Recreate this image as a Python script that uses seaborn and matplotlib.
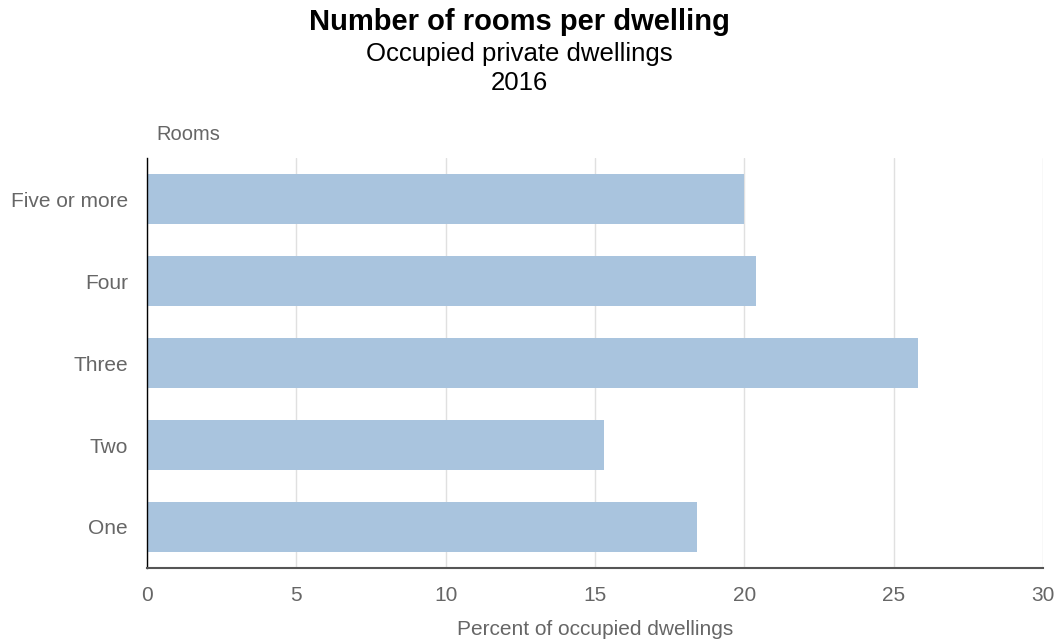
import matplotlib
matplotlib.use("Agg")
import matplotlib.pyplot as plt
import pandas as pd
import seaborn as sns

rooms = ["Five or more", "Four", "Three", "Two", "One"]
percent = [20.0, 20.4, 25.8, 15.3, 18.4]

df = pd.DataFrame({"Rooms": rooms, "Percent": percent})

sns.set_theme(style="white")
plt.rcParams["font.family"] = ["Liberation Sans", "DejaVu Sans"]

fig = plt.figure(figsize=(10.56, 6.41), dpi=100)
ax = fig.add_axes([0.139, 0.114, 0.849, 0.639])

sns.barplot(data=df, x="Percent", y="Rooms", orient="h", color="#a9c4de",
            saturation=1, width=0.61, linewidth=0, ax=ax, zorder=2)

ax.set_xlim(0, 30)
ax.set_ylim(4.5, -0.5)
ax.set_xticks([0, 5, 10, 15, 20, 25, 30])
ax.grid(axis="x", color="#e0e0e0", linewidth=1.0)
ax.set_axisbelow(True)

for s in ["top", "right"]:
    ax.spines[s].set_visible(False)
ax.spines["left"].set_color("black")
ax.spines["left"].set_linewidth(1.0)
ax.spines["bottom"].set_color("#555555")
ax.spines["bottom"].set_linewidth(1.5)
for s in ["left", "bottom"]:
    ax.spines[s].set_zorder(4)

ax.tick_params(axis="both", length=0, labelsize=15, colors="#666666")
ax.tick_params(axis="y", pad=13.5)
ax.tick_params(axis="x", pad=13)
ax.set_ylabel("")
ax.set_xlabel("Percent of occupied dwellings", fontsize=15, color="#666666", labelpad=11)
ax.text(0.046, 1.035, "Rooms", transform=ax.transAxes, fontsize=14.5, color="#666666",
        ha="center", va="bottom")

fig.text(0.492, 0.966, "Number of rooms per dwelling", ha="center", va="center",
         fontsize=21, fontweight="bold", color="black")
fig.text(0.492, 0.916, "Occupied private dwellings", ha="center", va="center",
         fontsize=18.5, color="black")
fig.text(0.492, 0.870, "2016", ha="center", va="center", fontsize=18.5, color="black")

fig.savefig("out.png", dpi=100)
